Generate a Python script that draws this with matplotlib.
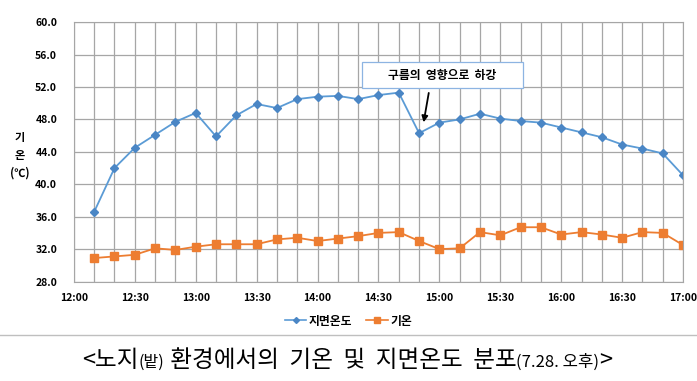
import matplotlib
matplotlib.use("Agg")
import matplotlib.pyplot as plt
from matplotlib.lines import Line2D
from matplotlib.patches import Rectangle

plt.rcParams["font.family"] = ["Noto Sans CJK KR", "DejaVu Sans"]

# 10-minute readings, 12:10 .. 17:00
times = ["12:10", "12:20", "12:30", "12:40", "12:50", "13:00",
         "13:10", "13:20", "13:30", "13:40", "13:50", "14:00",
         "14:10", "14:20", "14:30", "14:40", "14:50", "15:00",
         "15:10", "15:20", "15:30", "15:40", "15:50", "16:00",
         "16:10", "16:20", "16:30", "16:40", "16:50", "17:00"]
ground_temp = [36.6, 42.0, 44.5, 46.1, 47.7, 48.8,
               45.9, 48.5, 49.9, 49.4, 50.5, 50.8,
               50.9, 50.5, 51.0, 51.3, 46.3, 47.6,
               48.0, 48.7, 48.1, 47.8, 47.6, 47.0,
               46.4, 45.8, 44.9, 44.4, 43.8, 41.1]
air_temp = [30.9, 31.1, 31.3, 32.1, 31.9, 32.3,
            32.6, 32.6, 32.6, 33.2, 33.4, 33.0,
            33.3, 33.6, 34.0, 34.1, 33.0, 32.0,
            32.1, 34.1, 33.7, 34.7, 34.7, 33.8,
            34.1, 33.8, 33.4, 34.1, 34.0, 32.5]
tick_labels = ["12:00", "12:30", "13:00", "13:30", "14:00", "14:30",
               "15:00", "15:30", "16:00", "16:30", "17:00"]
series_names = ["지면온도", "기온"]


def to_min(t):
    h, m = t.split(":")
    return int(h) * 60 + int(m) - 720


x = [to_min(t) for t in times]

blue = "#5B9BD5"
orange = "#ED7D31"
W, H = 697, 381

fig = plt.figure(figsize=(6.97, 3.81), dpi=100)
ax = fig.add_axes([0.106, 0.261, 0.874, 0.681])

ax.plot(x, ground_temp, color=blue, lw=1.3, marker="D", ms=4,
        markerfacecolor="#4A86C5", markeredgecolor="#4A86C5")
ax.plot(x, air_temp, color=orange, lw=1.3, marker="s", ms=5.5,
        markerfacecolor=orange, markeredgecolor=orange)

ax.set_xlim(0, 300)
ax.set_ylim(28, 60)
ax.set_xticks(range(0, 301, 30))
ax.set_xticklabels(tick_labels)
ax.set_xticks(range(0, 301, 10), minor=True)
ax.set_yticks(range(28, 61, 4))
ax.set_yticklabels([f"{v:.1f}" for v in range(28, 61, 4)])
ax.grid(True, which="both", color="#A6A6A6", lw=0.9)
ax.set_axisbelow(True)
for s in ax.spines.values():
    s.set_color("#A6A6A6")
ax.tick_params(which="both", length=0, labelsize=7.5)
ax.tick_params(axis="x", pad=8)
ax.tick_params(axis="y", pad=12)
for lab in ax.get_xticklabels() + ax.get_yticklabels():
    lab.set_fontweight("bold")

fig.text(20 / W, 1 - 155 / H, "기\n온\n(℃)", ha="center", va="center",
         fontsize=8, fontweight="bold", linespacing=1.5)

# annotation box with arrow
ax.annotate("", xy=(to_min("14:52"), 47.3), xytext=(to_min("14:55"), 51.6),
            arrowprops=dict(arrowstyle="-|>", color="black", lw=1.3,
                            mutation_scale=9))
fig.add_artist(Rectangle((362 / W, 1 - 88 / H), 161 / W, 26 / H,
                         transform=fig.transFigure, fc="white", ec="#8DB4E2",
                         lw=0.9, zorder=5))
fig.text(442 / W, 1 - 75 / H, "구름의  영향으로  하강", ha="center", va="center",
         fontsize=8.5, fontweight="bold", zorder=6)

handles = [Line2D([], [], color=blue, marker="D", ms=3, lw=1.2,
                  markerfacecolor="#4A86C5", markeredgecolor="#4A86C5"),
           Line2D([], [], color=orange, marker="s", ms=4, lw=1.2)]
fig.legend(handles, series_names, loc="center", bbox_to_anchor=(0.5, 1 - 321 / H),
           ncol=2, frameon=False, handlelength=1.8, handletextpad=0.2,
           columnspacing=1.2, prop={"weight": "bold", "size": 8.5})

fig.add_artist(Line2D([0, 1], [1 - 335 / H] * 2, color="#BFBFBF", lw=1.0,
                      transform=fig.transFigure))

# caption built from pieces of two sizes
pieces = [("<노지", 17), ("(밭)", 11.5), (" 환경에서의  기온  및  지면온도  분포", 17),
          ("(7.28. 오후)", 12), (">", 17)]
fig.canvas.draw()
renderer = fig.canvas.get_renderer()
texts = []
xpos = 0.0
for s, size in pieces:
    t = fig.text(xpos, 1 - 367 / H, s, fontsize=size, ha="left", va="baseline")
    w = t.get_window_extent(renderer).width / fig.bbox.width
    texts.append((t, w))
    xpos += w
start = (70 + 625) / 2 / W - xpos / 2
for t, w in texts:
    t.set_x(start)
    start += w

fig.savefig("out.png", dpi=100)
